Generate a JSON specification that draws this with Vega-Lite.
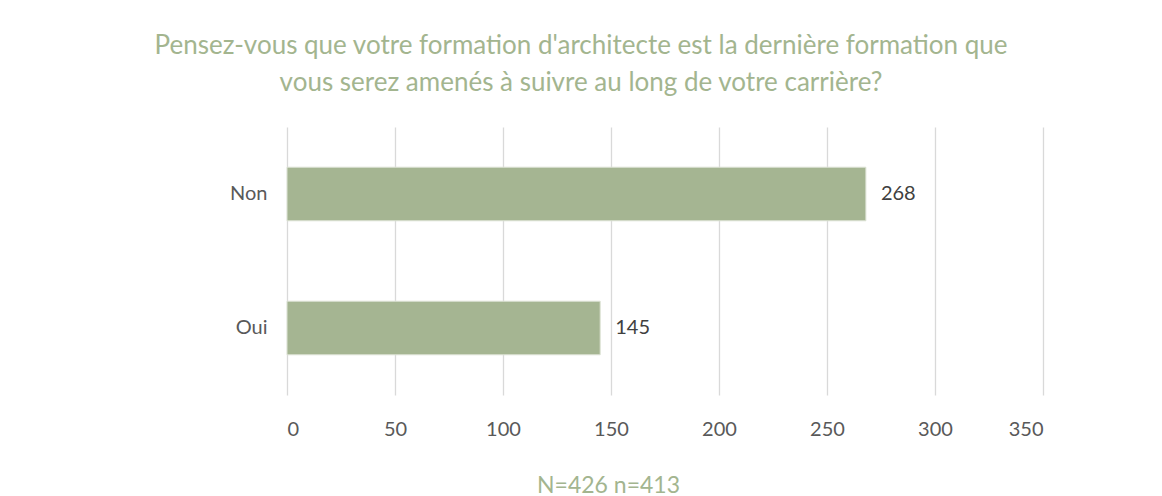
{
  "$schema": "https://vega.github.io/schema/vega-lite/v6.json",
  "width": 756,
  "height": 268,
  "autosize": {"type": "none"},
  "padding": {"left": 287, "top": 127, "right": 119, "bottom": 101},
  "background": "white",
  "config": {"font": "Lato", "view": {"stroke": null}},
  "title": {
    "text": ["Pensez-vous que votre formation d'architecte est la dernière formation que", "vous serez amenés à suivre au long de votre carrière?"],
    "anchor": "middle",
    "frame": "group",
    "dx": -84,
    "offset": 31,
    "fontSize": 26,
    "fontWeight": "normal",
    "color": "#A3B58F",
    "lineHeight": 37,
    "font": "Lato"
  },
  "data": {"values": [
    {"reponse": "Non", "count": 268},
    {"reponse": "Oui", "count": 145}
  ]},
  "encoding": {
    "y": {
      "field": "reponse", "type": "nominal", "sort": ["Non", "Oui"],
      "scale": {"paddingInner": 0.6, "paddingOuter": 0.3},
      "axis": {"title": null, "domain": false, "ticks": false, "labelPadding": 20, "labelFontSize": 20, "labelColor": "#595959", "labelFont": "Lato"}
    },
    "x": {
      "field": "count", "type": "quantitative",
      "scale": {"domain": [0, 350], "nice": false},
      "axis": {
        "values": [0, 50, 100, 150, 200, 250, 300, 350],
        "domain": false, "ticks": false, "grid": true, "gridColor": "#D9D9D9", "gridWidth": 1.3,
        "labelPadding": 24, "labelFontSize": 20, "labelColor": "#595959", "labelFont": "Lato",
        "title": "N=426 n=413", "titleColor": "#A3B58F", "titleFontSize": 23, "titleFontWeight": "normal",
        "titleFont": "Lato", "titleX": 321, "titleY": 97, "titleAlign": "center", "titleBaseline": "alphabetic"
      }
    }
  },
  "layer": [
    {"mark": {"type": "bar", "color": "#A5B592", "stroke": "#DDE3D5", "strokeWidth": 1}},
    {"mark": {"type": "text", "align": "left", "dx": 15, "fontSize": 20, "color": "#404040", "font": "Lato"},
     "encoding": {"text": {"field": "count", "type": "quantitative"}}}
  ]
}
